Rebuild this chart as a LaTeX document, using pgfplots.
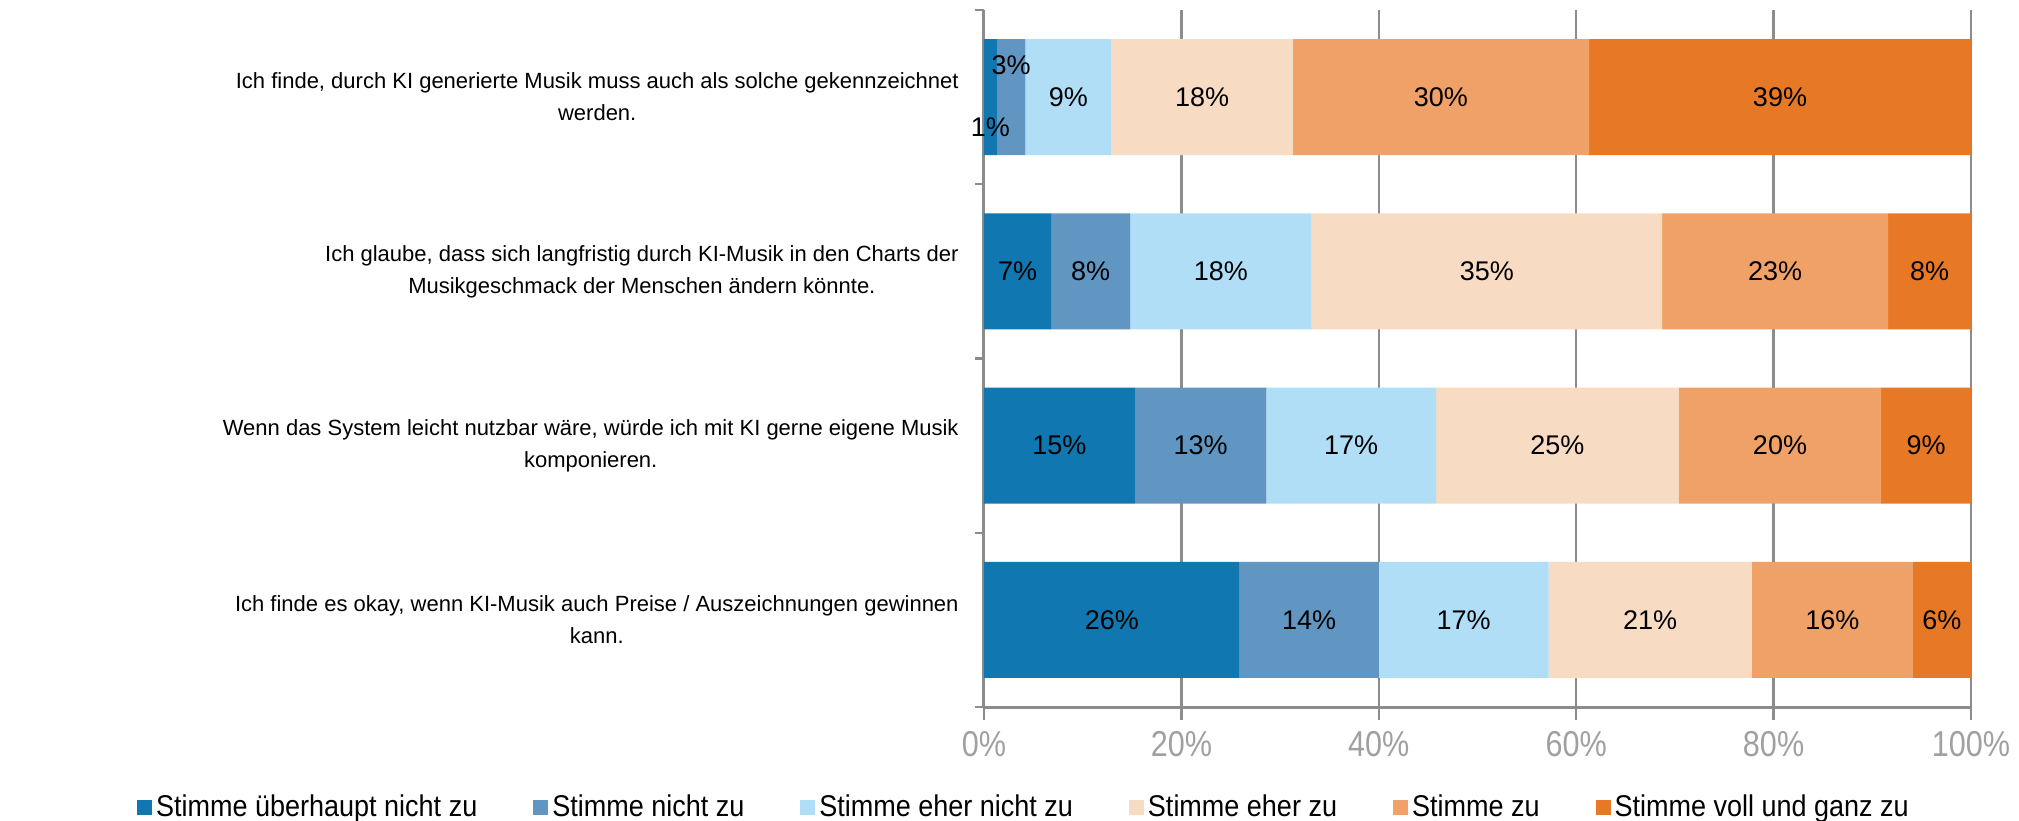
\documentclass[border=0pt]{standalone}
\usepackage{fontspec}
\setmainfont{Liberation Sans}
\newfontfamily\tickfont[FakeStretch=0.85]{Liberation Sans}
\newfontfamily\legfont[FakeStretch=0.9]{Liberation Sans}
\usepackage{pgfplots}
\usepackage{pgfplotstable}
\pgfplotsset{compat=1.18}
\definecolor{c1}{HTML}{1077B0}
\definecolor{c2}{HTML}{6196C3}
\definecolor{c3}{HTML}{B0DEF7}
\definecolor{c4}{HTML}{F8DBC3}
\definecolor{c5}{HTML}{F0A168}
\definecolor{c6}{HTML}{E77926}
\definecolor{gridc}{HTML}{8C8C8C}
\definecolor{tickc}{HTML}{A0A0A0}
\pgfplotstableread{
y v1 v2 v3 v4 v5 v6 l1 l2 l3 l4 l5 l6 d1 d2 d0
0 1.3 2.9 8.7 18.4 30.0 38.7 1 3 9 18 30 39 -15 16 0
1 6.8 8.0 18.4 35.5 22.9 8.4 7 8 18 35 23 8 0 0 0
2 15.3 13.3 17.2 24.6 20.5 9.1 15 13 17 25 20 9 0 0 0
3 25.9 14.1 17.2 20.6 16.3 5.9 26 14 17 21 16 6 0 0 0
}\datatable
\pgfplotsset{
  seg/.style n args={2}{
    fill=#1, draw=none,
    nodes near coords={\pgfplotspointmeta\%},
    point meta=explicit symbolic,
    visualization depends on={\thisrow{#2} \as \dy},
    every node near coord/.append style={anchor=center, font=\fontsize{13.5}{16}\selectfont, text=black,
      yshift=\dy pt},
  },
}
\begin{document}
\begin{tikzpicture}
\begin{axis}[
  scale only axis,
  width=493.5pt, height=348.5pt,
  xbar stacked,
  bar width=0.666,
  xmin=0, xmax=100,
  ymin=-0.5, ymax=3.5,
  y dir=reverse,
  axis x line*=bottom,
  axis y line*=left,
  axis line style={gridc, line width=1.5pt},
  xtick={0,20,40,60,80,100},
  xticklabels={0\%,20\%,40\%,60\%,80\%,100\%},
  xmajorgrids,
  grid style={gridc, line width=1.2pt},
  x tick style={gridc, line width=1.2pt},
  major tick length=6.5pt,
  tick align=outside,
  x tick label style={font=\tickfont\fontsize{18}{20}\selectfont, text=tickc, yshift=-2pt},
  ytick={0,1,2,3},
  y tick style={draw=none},
  yticklabels={
    {Ich finde, durch KI generierte Musik muss auch als solche gekennzeichnet\\werden.},
    {Ich glaube, dass sich langfristig durch KI-Musik in den Charts der\\Musikgeschmack der Menschen ändern könnte.},
    {Wenn das System leicht nutzbar wäre, würde ich mit KI gerne eigene Musik\\komponieren.},
    {Ich finde es okay, wenn KI-Musik auch Preise / Auszeichnungen gewinnen\\kann.}
  },
  y tick label style={align=center, font=\fontsize{11}{16}\selectfont, inner xsep=0pt, xshift=-6pt},
  extra y ticks={-0.5,0.5,1.5,2.5,3.5},
  extra y tick labels={},
  extra y tick style={y tick style={draw=gridc, line width=1.2pt}, major tick length=4.5pt, grid=none},
  legend columns=6,
  legend style={at={(axis description cs:0.0415,-0.1435)}, anchor=center, draw=none, fill=none,
    font=\legfont\fontsize{15}{16}\selectfont, inner sep=0pt,
    /tikz/every even column/.append style={column sep=26pt}},
  legend image code/.code={\fill[#1] (0pt,-3.75pt) rectangle (7.5pt,3.75pt);},
]
\addplot[seg={c1}{d1}] table[x=v1,y=y,meta=l1]{\datatable};
\addplot[seg={c2}{d2}] table[x=v2,y=y,meta=l2]{\datatable};
\addplot[seg={c3}{d0}] table[x=v3,y=y,meta=l3]{\datatable};
\addplot[seg={c4}{d0}] table[x=v4,y=y,meta=l4]{\datatable};
\addplot[seg={c5}{d0}] table[x=v5,y=y,meta=l5]{\datatable};
\addplot[seg={c6}{d0}] table[x=v6,y=y,meta=l6]{\datatable};
\legend{Stimme überhaupt nicht zu, Stimme nicht zu, Stimme eher nicht zu, Stimme eher zu, Stimme zu, Stimme voll und ganz zu}
\end{axis}
\pgfresetboundingbox
\path (current axis.south west) ++(-492pt,-56.5pt) rectangle ++(1009.5pt,410pt);
\end{tikzpicture}
\end{document}
